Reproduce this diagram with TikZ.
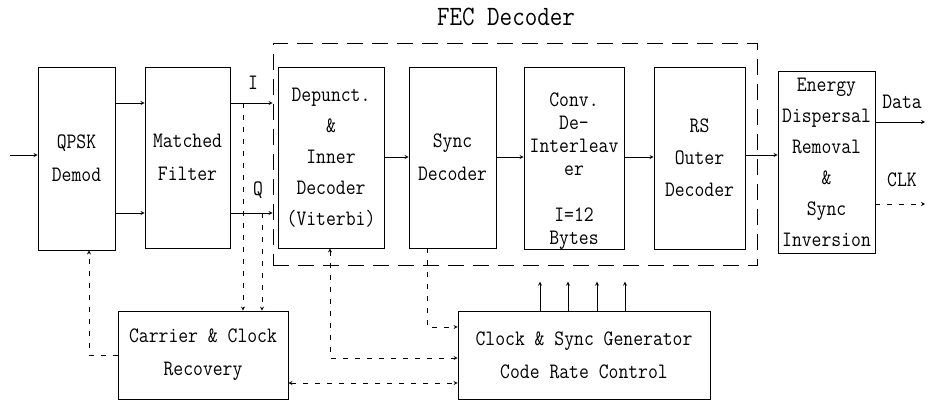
\documentclass[tikz,border=0pt]{standalone}
\usepackage{fontspec}
\setmainfont{Latin Modern Mono}[FakeStretch=0.87]

\begin{document}
\begin{tikzpicture}[>=stealth,x=1pt,y=-1pt,line width=0.8pt,
	blk/.style={draw,inner sep=0pt,align=center,minimum height=181pt,font=\fontsize{22}{31}\selectfont},
	wide/.style={font=\fontsize{22}{33}\selectfont},
	dsh/.style={dash pattern=on 5pt off 7pt}]
	\useasboundingbox (0,0) rectangle (930,402);
	% FEC part
	\node[draw,dash pattern=on 16pt off 9pt,minimum width=484pt,minimum height=222pt] (fec) at (515,154.5) {};
	\node[font=\fontsize{28}{28}\selectfont] (fectitle) at (506,17) {FEC Decoder};
	% blocks
	\node[blk,wide,minimum width=77pt,minimum height=183pt] (qpsk) at (76.5,158.5) {QPSK\\Demod};
	\node[blk,wide,minimum width=85pt] (mf) at (187.5,157.5) {Matched\\Filter};
	\node[blk,minimum width=106pt] (dep) at (331,157.5) {Depunct.\\\&\\Inner\\Decoder\\(Viterbi)};
	\node[blk,wide,minimum width=87pt] (sync) at (452.5,157.5) {Sync\\Decoder};
	\node[blk,minimum width=100pt,minimum height=182pt] (conv) at (574,158) {};
	\node[align=center,font=\fontsize{22}{23}\selectfont] (convtxt) at (574,171) {Conv.\\De-\\Interleav\\er\\[23pt]I=12\\Bytes};
	\node[blk,font=\fontsize{22}{32}\selectfont,minimum width=91pt,minimum height=182pt] (rs) at (699.5,158) {RS\\Outer\\Decoder};
	\node[blk,minimum width=97pt,minimum height=182pt] (edr) at (826.5,162) {Energy\\Dispersal\\Removal\\\&\\Sync\\Inversion};
	\node[blk,wide,minimum width=170pt,minimum height=88pt] (ccr) at (203,355) {Carrier \& Clock\\Recovery};
	\node[blk,wide,minimum width=252pt,minimum height=88pt] (csg) at (584,355) {Clock \& Sync Generator\\Code Rate Control};
	% rails
	\coordinate (rI) at (0,103);
	\coordinate (rQ) at (0,213);
	\coordinate (rD) at (0,157);
	\coordinate (rfin) at (10,155);
	\coordinate (tI) at (243,103);
	\coordinate (tQ) at (262,213);
	\coordinate (data) at (925,122);
	\coordinate (clk) at (925,204);
	\node[font=\fontsize{22}{22}\selectfont] (ilbl) at (253,83) {I};
	\node[font=\fontsize{22}{22}\selectfont] (qlbl) at (258,190) {Q};
	\node[font=\fontsize{22}{22}\selectfont] (datalbl) at (902,102) {Data};
	\node[font=\fontsize{22}{22}\selectfont] (clklbl) at (902,180) {CLK};
	% data path
	\draw[->] (rfin) -- (rfin -| qpsk.west);
	\draw[->] (qpsk.east |- rI) -- (mf.west |- rI);
	\draw[->] (qpsk.east |- rQ) -- (mf.west |- rQ);
	\draw[->] (mf.east |- rI) -- (fec.west |- rI);
	\draw[->] (mf.east |- rQ) -- (fec.west |- rQ);
	\draw[->] (dep.east |- rD) -- (sync.west |- rD);
	\draw[->] (sync.east |- rD) -- (conv.west |- rD);
	\draw[->] (conv.east |- rD) -- (rs.west |- rD);
	\draw[->] (rs.east |- rfin) -- (edr.west |- rfin);
	\draw[->] (edr.east |- data) -- (data);
	\draw[->,dsh] (edr.east |- clk) -- (clk);
	% control
	\draw[->,dsh] (tI) -- (tI |- ccr.north);
	\draw[->,dsh] (tQ) -- (tQ |- ccr.north);
	\draw[->,dsh] (ccr.west) -| ([xshift=12.5pt]qpsk.south);
	\draw[<->,dsh] ([yshift=-28pt]ccr.east) -- ([yshift=-28pt]csg.west);
	\draw[<->,dsh] ([xshift=-1pt]dep.south) |- ([yshift=-3pt]csg.west);
	\draw[->,dsh] ([xshift=-25.5pt]sync.south) |- ([yshift=28pt]csg.west);
	\foreach \x in {540,568,597,625}
		\draw[->] (csg.north -| \x,0) -- ++(0,-29);
\end{tikzpicture}
\end{document}
